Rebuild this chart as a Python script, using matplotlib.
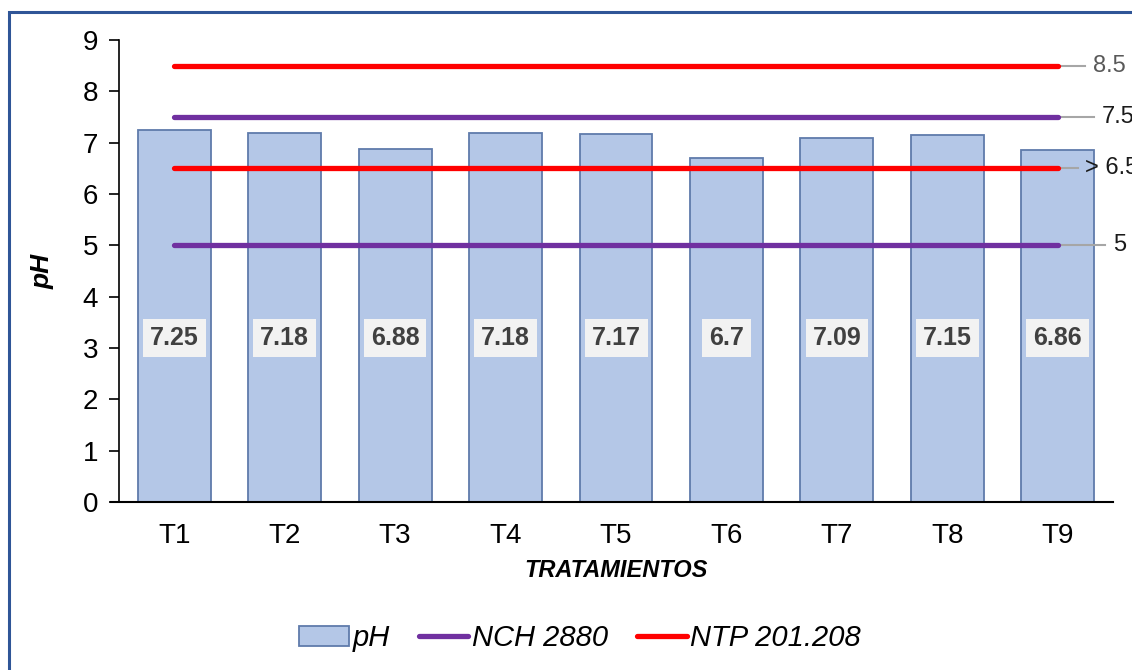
import matplotlib.pyplot as plt
from matplotlib.patches import Rectangle

plt.rcParams['font.family'] = ['Liberation Sans', 'DejaVu Sans']

# datos
tratamientos = ['T1', 'T2', 'T3', 'T4', 'T5', 'T6', 'T7', 'T8', 'T9']
ph = [7.25, 7.18, 6.88, 7.18, 7.17, 6.7, 7.09, 7.15, 6.86]
ph_labels = ['7.25', '7.18', '6.88', '7.18', '7.17', '6.7', '7.09', '7.15', '6.86']
nch_limits = [5, 7.5]       # NCH 2880
ntp_limits = [6.5, 8.5]     # NTP 201.208
right_labels = {8.5: '8.5', 7.5: '7.5', 6.5: '> 6.5', 5: '5'}

fig = plt.figure(figsize=(11.32, 6.70), dpi=100)
ax = fig.add_axes([119 / 1132, 1 - 502 / 670, (1113 - 119) / 1132, (502 - 40) / 670])

x = list(range(len(tratamientos)))
bars = ax.bar(x, ph, width=0.66, color='#b4c7e7', edgecolor='#5f7bab',
              linewidth=1.3, label='pH', zorder=2)

# etiquetas de valor
for xi, lab in zip(x, ph_labels):
    ax.text(xi, 3.2, lab, ha='center', va='center', fontsize=18,
            fontweight='bold', color='#404040', zorder=5,
            bbox=dict(boxstyle='square,pad=0.28', fc='#f2f2f2', ec='none'))

# lineas de norma
x_line = [x[0], x[-1]]
for i, v in enumerate(nch_limits):
    ax.plot(x_line, [v, v], color='#7030a0', lw=3.8, solid_capstyle='round',
            zorder=4, label='NCH 2880' if i == 0 else None)
for i, v in enumerate(ntp_limits):
    ax.plot(x_line, [v, v], color='#ff0000', lw=3.8, solid_capstyle='round',
            zorder=4, label='NTP 201.208' if i == 0 else None)

# etiquetas a la derecha con lineas guia (cortadas en el borde, como el original)
leader_end = {8.5: 8.25, 7.5: 8.33, 6.5: 8.18, 5: 8.43}
for v, txt in right_labels.items():
    xe = leader_end[v]
    ax.plot([x[-1], xe], [v, v], color='#a6a6a6', lw=1.5, zorder=3, clip_on=False)
    ax.text(xe + 0.07, v, txt, ha='left', va='center', fontsize=17,
            color='#595959' if v == 8.5 else '#1a1a1a', clip_on=False)

ax.set_xlim(-0.5, len(tratamientos) - 0.5)
ax.set_ylim(0, 9)
ax.set_yticks(range(0, 10))
ax.set_xticks(x)
ax.set_xticklabels(tratamientos)
ax.tick_params(axis='y', labelsize=20, length=7, width=1.2, direction='out', pad=8)
ax.tick_params(axis='x', labelsize=20, length=0, pad=15)
for s in ['top', 'right']:
    ax.spines[s].set_visible(False)
ax.spines['left'].set_linewidth(1.2)
ax.spines['bottom'].set_linewidth(1.5)
ax.spines['bottom'].set_bounds(-0.57, len(tratamientos) - 0.5)

ax.set_xlabel('TRATAMIENTOS', fontsize=17, fontweight='bold', style='italic', labelpad=7)
ax.set_ylabel('pH', fontsize=19, fontweight='bold', style='italic', labelpad=20)

h, l = ax.get_legend_handles_labels()
order = [l.index('pH'), l.index('NCH 2880'), l.index('NTP 201.208')]
leg = fig.legend([h[i] for i in order], [l[i] for i in order], loc='center',
                 bbox_to_anchor=(580 / 1132, 1 - 638 / 670), ncol=3, frameon=False,
                 prop={'size': 21, 'style': 'italic'}, handlelength=1.7,
                 handletextpad=0.12, columnspacing=1.0)

# borde del grafico
fig.patches.append(Rectangle((9 / 1132, -0.1), 1.2, 1 - 12 / 670 + 0.1,
                             transform=fig.transFigure, fill=False,
                             ec='#2f5597', lw=2.2))

fig.savefig('out.png', dpi=100)
